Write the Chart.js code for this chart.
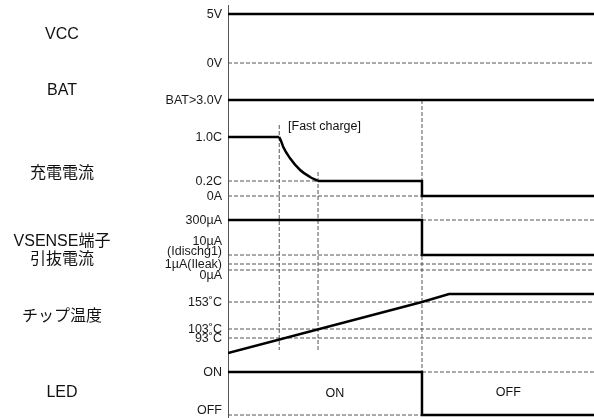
<!DOCTYPE html>
<html>
<head>
<meta charset="utf-8">
<script src="https://cdn.jsdelivr.net/npm/chart.js@4.4.0/dist/chart.umd.min.js"></script>
<style>
  body { margin: 0; background: #fff; }
  #wrap { width: 594px; height: 418px; }
</style>
</head>
<body>
<div id="wrap"><canvas id="myChart" width="594" height="418"></canvas></div>
<script>
/*
* DATI DEL DIAGRAMMA (asse x = tempo 0..100, asse y = livelli del diagramma)
*/

// Segnali (linee piene) [tempo, livello]
const vcc = [[0, 40.1], [100, 40.1]];
const bat = [[0, 31.5], [100, 31.5]];
const chargeCC = [[0, 27.8], [14, 27.8]];
const chargeCurve = [[14, 27.8], [14.6, 27.3], [15.1, 26.8], [16.9, 25.7], [19.7, 24.5], [22.4, 23.8], [24.6, 23.4]];
const chargeEnd = [[24.6, 23.4], [53, 23.4], [53, 21.9], [100, 21.9]];
const vsense = [[0, 19.5], [53, 19.5], [53, 16.0], [100, 16.0]];
const chipTemp = [[0, 6.2], [53, 11.3], [60.4, 12.1], [100, 12.1]];
const led = [[0, 4.3], [53, 4.3], [53, 0], [100, 0]];

// Linee tratteggiate orizzontali [livello, da, a]
const hGuides = [
  [35.2, 0, 100],   // 0V
  [23.4, 0, 24.6],  // 0.2C
  [21.9, 0, 53],    // 0A
  [19.5, 53, 100],  // 300uA
  [16.0, 0, 53],    // 10uA
  [15.1, 0, 100],   // 1uA
  [14.5, 0, 100],   // 0uA
  [11.3, 0, 100],   // 153C
  [8.6, 0, 100],    // 103C
  [7.7, 0, 100],    // 93C
  [4.3, 53, 100],   // ON
  [0, 0, 53]        // OFF
];

// Linee tratteggiate verticali [tempo, alto, basso]
const vGuides = [
  [14, 29.0, 6.5],
  [24.6, 24.3, 6.5],
  [53, 31.5, -0.3]
];

// Etichette dell'asse y
const tickLabels = ['5V', '0V', 'BAT>3.0V', '1.0C', '0.2C', '0A', '300µA', ['10µA', '(Idischg1)'],
  '1µA(Ileak)', '0µA', '153˚C', '103˚C', '93˚C', 'ON', 'OFF'];
const tickPos = [40.0, 35.1, 31.4, 27.7, 23.3, 21.8, 19.4, 16.85, 15.05, 13.9, 11.2, 8.5, 7.6, 4.2, 0.4];

// Nomi dei segnali a sinistra
const rowNames = ['VCC', 'BAT', '充電電流', ['VSENSE端子', '引抜電流'], 'チップ温度', 'LED'];
const rowPos = [38.05, 32.4, 24.1, 16.45, 9.85, 2.25];

// Note dentro il grafico
const notes = ['[Fast charge]', 'ON', 'OFF'];
const noteT = [16.4, 29.2, 76.6];
const noteY = [28.8, 2.1, 2.2];

const FONT = "'Liberation Sans', Arial, 'Noto Sans CJK JP', sans-serif";
const ctx = document.getElementById('myChart').getContext('2d');

function pts(arr) {
  return arr.map(p => ({x: p[0], y: p[1]}));
}

// Linea piena nera
function solid(arr, curve) {
  return {
    data: pts(arr),
    borderColor: '#000',
    borderWidth: 2.5,
    pointRadius: 0,
    borderJoinStyle: 'miter',
    cubicInterpolationMode: curve ? 'monotone' : 'default',
    order: 1
  };
}

// Linea tratteggiata grigia
function dashed(arr) {
  return {
    data: pts(arr),
    borderColor: '#555',
    borderWidth: 1,
    borderDash: [4, 2],
    pointRadius: 0,
    order: 2
  };
}

var datasets = [
  solid(vcc), solid(bat), solid(chargeCC), solid(chargeCurve, true), solid(chargeEnd),
  solid(vsense), solid(chipTemp), solid(led)
];
hGuides.forEach(g => datasets.push(dashed([[g[1], g[0]], [g[2], g[0]]])));
vGuides.forEach(g => datasets.push(dashed([[g[0], g[1]], [g[0], g[2]]])));

// Testi: nomi a sinistra e note
const textPlugin = {
  id: 'texts',
  afterDatasetsDraw(chart) {
    const c = chart.ctx;
    const xs = chart.scales.x, ys = chart.scales.y;
    c.save();
    c.fillStyle = '#111';
    c.textBaseline = 'middle';
    c.textAlign = 'center';
    c.font = '16px ' + FONT;
    rowNames.forEach((name, i) => {
      const y = ys.getPixelForValue(rowPos[i]);
      if (Array.isArray(name)) {
        c.fillText(name[0], 62, y - 9);
        c.fillText(name[1], 62, y + 9);
      } else {
        c.fillText(name, 62, y);
      }
    });
    c.font = '12.5px ' + FONT;
    notes.forEach((n, i) => {
      c.textAlign = i === 0 ? 'left' : 'center';
      c.fillText(n, xs.getPixelForValue(noteT[i]), ys.getPixelForValue(noteY[i]));
    });
    c.restore();
  }
};

const myChart = new Chart(ctx, {
  type: 'line',
  data: { datasets: datasets },
  options: {
    responsive: false,
    animation: false,
    devicePixelRatio: 1,
    events: [],
    layout: { padding: { top: 5, left: 0, right: 0, bottom: 0 } },
    plugins: { legend: { display: false }, tooltip: { enabled: false } },
    scales: {
      x: { type: 'linear', min: 0, max: 100, display: false },
      y: {
        type: 'linear',
        min: -0.3,
        max: 41,
        afterBuildTicks: function(scale) {
          scale.ticks = tickPos.map(v => ({ value: v }));
        },
        afterFit: function(scale) {
          scale.width = 228;
          scale.paddingTop = 0;
          scale.paddingBottom = 0;
        },
        ticks: {
          autoSkip: false,
          padding: 6,
          color: '#1a1a1a',
          font: { family: FONT, size: 12.5, lineHeight: 0.8 },
          callback: function(value, index) {
            return tickLabels[index];
          }
        },
        grid: { display: false, drawTicks: false },
        border: { display: true, color: '#555', width: 1, dash: [4, 2] }
      }
    }
  },
  plugins: [textPlugin]
});
</script>
</body>
</html>
